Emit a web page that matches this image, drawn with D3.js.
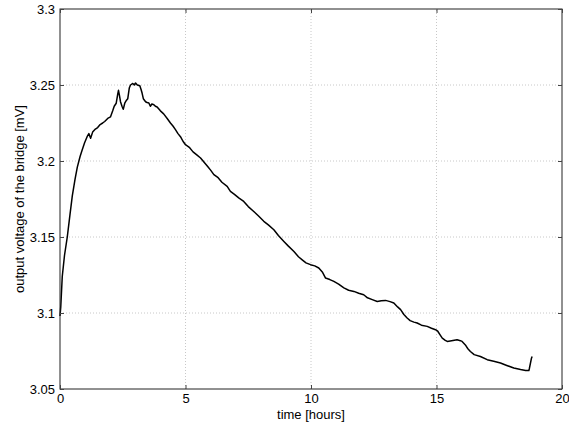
<!DOCTYPE html>
<html>
<head>
<meta charset="utf-8">
<script src="https://cdn.jsdelivr.net/npm/d3@7"></script>
<style>
  body { margin: 0; background: #fff; }
  svg { display: block; font-family: "Liberation Sans", Arial, Helvetica, sans-serif; }
  .grid line { stroke: #c8c8c8; stroke-dasharray: 1,2; }
</style>
</head>
<body>
<div id="chart"></div>
<script>
"use strict";
// time in hours, bridge output voltage in mV
const hours = [0.00, 0.03, 0.09, 0.18, 0.29, 0.40, 0.49, 0.60, 0.69, 0.80, 0.88, 0.98, 1.08, 1.15, 1.22, 1.30, 1.41, 1.50, 1.60, 1.70,
    1.78, 1.90, 2.01, 2.10, 2.16, 2.24, 2.30, 2.33, 2.37, 2.41, 2.47, 2.52, 2.58, 2.65, 2.70, 2.76, 2.81, 2.90, 2.96, 3.01,
    3.08, 3.18, 3.23, 3.27, 3.32, 3.41, 3.47, 3.54, 3.60, 3.66, 3.74, 3.80, 3.87, 4.00, 4.13, 4.27, 4.40, 4.50, 4.60, 4.70,
    4.80, 4.90, 5.00, 5.15, 5.30, 5.45, 5.60, 5.75, 5.90, 6.00, 6.13, 6.30, 6.45, 6.66, 6.79, 6.95, 7.12, 7.32, 7.50, 7.72,
    7.90, 8.12, 8.30, 8.52, 8.70, 8.92, 9.10, 9.32, 9.50, 9.65, 9.80, 9.98, 10.15, 10.31, 10.45, 10.58, 10.75, 10.91, 11.10, 11.31,
    11.50, 11.71, 11.90, 12.10, 12.25, 12.44, 12.64, 12.80, 12.97, 13.15, 13.30, 13.45, 13.57, 13.70, 13.83, 13.95, 14.10, 14.23, 14.40, 14.63,
    14.80, 14.96, 15.05, 15.15, 15.23, 15.35, 15.43, 15.60, 15.82, 15.95, 16.02, 16.15, 16.25, 16.35, 16.50, 16.75, 17.02, 17.28, 17.55, 17.80,
    18.08, 18.35, 18.55, 18.68, 18.70, 18.78, 18.81];
const voltage = [3.098, 3.104, 3.124, 3.138, 3.150, 3.165, 3.177, 3.188, 3.196, 3.203, 3.207, 3.212, 3.216, 3.218, 3.215, 3.219, 3.221, 3.222, 3.224, 3.225,
    3.226, 3.228, 3.229, 3.233, 3.236, 3.238, 3.244, 3.2465, 3.243, 3.239, 3.236, 3.234, 3.238, 3.240, 3.241, 3.248, 3.250, 3.251, 3.250, 3.2513,
    3.250, 3.2495, 3.247, 3.2447, 3.241, 3.239, 3.2385, 3.2382, 3.236, 3.2375, 3.237, 3.236, 3.2355, 3.233, 3.231, 3.228, 3.225, 3.223, 3.2206, 3.218,
    3.216, 3.213, 3.2107, 3.209, 3.206, 3.204, 3.202, 3.199, 3.196, 3.194, 3.191, 3.189, 3.186, 3.1833, 3.180, 3.178, 3.1757, 3.1734, 3.170, 3.1668,
    3.164, 3.1603, 3.158, 3.1548, 3.151, 3.1471, 3.144, 3.1405, 3.137, 3.135, 3.133, 3.1318, 3.131, 3.1296, 3.127, 3.123, 3.122, 3.1208, 3.119, 3.1165,
    3.115, 3.1142, 3.113, 3.112, 3.110, 3.1088, 3.1076, 3.108, 3.1083, 3.1075, 3.1066, 3.104, 3.1022, 3.099, 3.0967, 3.095, 3.094, 3.0934, 3.092, 3.0912,
    3.090, 3.089, 3.088, 3.0855, 3.0835, 3.082, 3.0813, 3.0818, 3.0824, 3.0818, 3.0813, 3.079, 3.0765, 3.0747, 3.0726, 3.0714, 3.0693, 3.0682, 3.0671, 3.0655,
    3.0638, 3.0628, 3.0622, 3.0622, 3.0635, 3.070, 3.0714];
const xTicks = [0, 5, 10, 15, 20];
const yTicks = [3.05, 3.1, 3.15, 3.2, 3.25, 3.3];

const width = 569, height = 425;
const margin = { top: 9, right: 7, bottom: 36, left: 60 };
const svg = d3.select("#chart").append("svg")
    .attr("width", width)
    .attr("height", height);

const x = d3.scaleLinear().domain([0, 20]).range([margin.left, width - margin.right]);
const y = d3.scaleLinear().domain([3.05, 3.3]).range([height - margin.bottom, margin.top]);

// grid
const grid = svg.append("g").attr("class", "grid");
grid.selectAll(".gx").data(xTicks.slice(1, -1)).join("line")
    .attr("x1", d => x(d)).attr("x2", d => x(d))
    .attr("y1", y(3.05)).attr("y2", y(3.3));
grid.selectAll(".gy").data(yTicks.slice(1, -1)).join("line")
    .attr("x1", x(0)).attr("x2", x(20))
    .attr("y1", d => y(d)).attr("y2", d => y(d));

// data line
const data = hours.map((t, i) => [t, voltage[i]]);
svg.append("path")
    .datum(data)
    .attr("fill", "none")
    .attr("stroke", "#000")
    .attr("stroke-width", 1.5)
    .attr("stroke-linejoin", "round")
    .attr("d", d3.line().x(d => x(d[0])).y(d => y(d[1])));

// box
svg.append("rect")
    .attr("x", x(0)).attr("y", y(3.3))
    .attr("width", x(20) - x(0)).attr("height", y(3.05) - y(3.3))
    .attr("fill", "none").attr("stroke", "#222").attr("stroke-width", 1);

// axes (matlab style: ticks pointing inward)
const xAxis = svg.append("g")
    .attr("transform", `translate(0,${y(3.05)})`)
    .call(d3.axisBottom(x).tickValues(xTicks).tickFormat(d3.format("d"))
        .tickSizeInner(-4).tickSizeOuter(0).tickPadding(5));
const yAxis = svg.append("g")
    .attr("transform", `translate(${x(0)},0)`)
    .call(d3.axisLeft(y).tickValues(yTicks).tickFormat(d => String(+d.toFixed(2)))
        .tickSizeInner(-4).tickSizeOuter(0).tickPadding(5));
const xTop = svg.append("g")
    .attr("transform", `translate(0,${y(3.3)})`)
    .call(d3.axisTop(x).tickValues(xTicks).tickFormat("").tickSizeInner(-4).tickSizeOuter(0));
const yRight = svg.append("g")
    .attr("transform", `translate(${x(20)},0)`)
    .call(d3.axisRight(y).tickValues(yTicks).tickFormat("").tickSizeInner(-4).tickSizeOuter(0));
[xAxis, yAxis, xTop, yRight].forEach(a => {
    a.select(".domain").remove();
    a.selectAll("line").attr("stroke", "#444");
    a.selectAll("text").attr("font-size", 13).attr("fill", "#000")
        .attr("font-family", "Liberation Sans, Arial, sans-serif");
});

svg.append("text")
    .attr("x", (x(0) + x(20)) / 2)
    .attr("y", 418.5)
    .attr("text-anchor", "middle")
    .attr("font-size", 13)
    .text("time [hours]");

svg.append("text")
    .attr("transform", `translate(24,${(y(3.05) + y(3.3)) / 2}) rotate(-90)`)
    .attr("text-anchor", "middle")
    .attr("font-size", 13)
    .text("output voltage of the bridge [mV]");
</script>
</body>
</html>
